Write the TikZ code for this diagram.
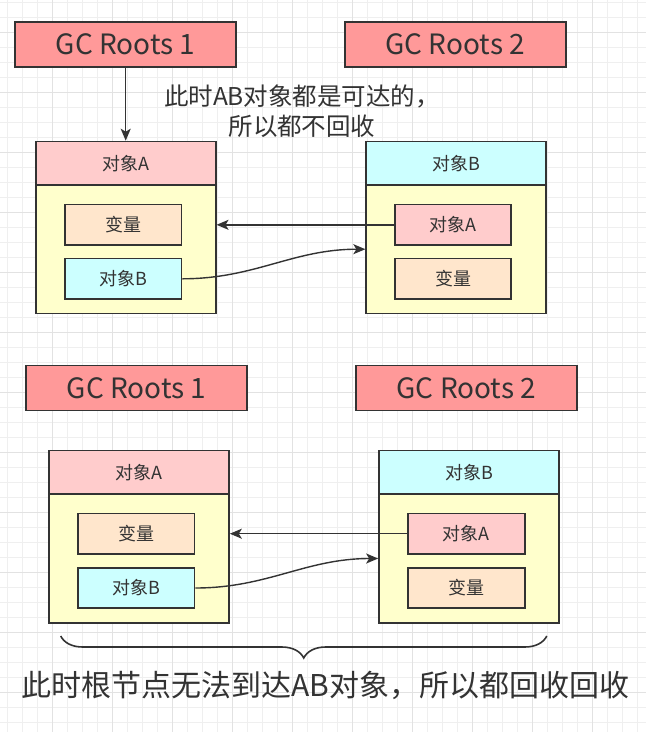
\documentclass[tikz,border=0pt]{standalone}
\usepackage{fontspec}
\setmainfont{Noto Sans CJK SC}
\usetikzlibrary{arrows.meta,decorations.pathreplacing}
\definecolor{ink}{HTML}{333333}
\definecolor{rootred}{HTML}{FF9999}
\definecolor{pinkA}{HTML}{FFCCCC}
\definecolor{cyanB}{HTML}{CCFFFF}
\definecolor{bodyyellow}{HTML}{FFFFCC}
\definecolor{varorange}{HTML}{FFE6CC}
\definecolor{gridminor}{HTML}{EFEFEF}
\definecolor{gridmajor}{HTML}{E2E2E2}
\begin{document}
\begin{tikzpicture}[x=1pt,y=-1pt,
    minor/.style={draw=gridminor,line width=1pt},
    major/.style={draw=gridmajor,line width=1pt},
    root/.style={draw=ink,fill=rootred,line width=1.7pt,minimum width=221pt,minimum height=45pt,inner sep=0pt,text=ink,font=\fontsize{28}{32}\selectfont},
    head/.style={draw=ink,line width=1.7pt,minimum width=180pt,minimum height=43.5pt,inner sep=0pt,text=ink,font=\fontsize{18}{20}\selectfont},
    body/.style={draw=ink,fill=bodyyellow,line width=1.7pt,minimum width=180pt,minimum height=128.5pt,inner sep=0pt},
    field/.style={draw=ink,line width=1.7pt,minimum width=116.5pt,minimum height=40.5pt,inner sep=0pt,text=ink,font=\fontsize{18}{20}\selectfont},
    ref/.style={draw=ink,line width=1.4pt,-{Stealth[length=12pt,width=10pt,inset=3pt]}},
    note/.style={text=ink,align=center,inner sep=0pt,font=\fontsize{24.5}{30}\selectfont},
    caption/.style={text=ink,inner sep=0pt,font=\fontsize{30}{34}\selectfont},
    bracket/.style={draw=ink,line width=1.6pt,decorate,decoration={brace,amplitude=22pt}}]
        \path[use as bounding box,fill=white](0,0) rectangle (646,732);
        \foreach \x in {7.7,22.7,...,646} \draw[minor](\x,0) to (\x,732);
        \foreach \y in {2,17,...,732} \draw[minor](0,\y) to (646,\y);
        \foreach \x in {52.7,112.7,...,646} \draw[major](\x,0) to (\x,732);
        \foreach \y in {32,92,...,732} \draw[major](0,\y) to (646,\y);

        \node[root] (tr1) at(125.7, 44.5){GC Roots 1};
        \node[root] (tr2) at(455.3, 44.5){GC Roots 2};
        \node[note] (tnote) at(302, 111){此时AB对象都是可达的，\\所以都不回收};

        \node[head, fill=pinkA] (tAh) at(125.7, 163.3){对象A};
        \node[body] (tAb) at(125.7, 249.2){};
            \node[field, fill=varorange] (tAv) at(123.2, 224.8){变量};
            \node[field, fill=cyanB] (tAr) at(123.2, 278.8){对象B};

        \node[head, fill=cyanB] (tBh) at(456.2, 163.3){对象B};
        \node[body] (tBb) at(456.2, 249.2){};
            \node[field, fill=pinkA] (tBr) at(453, 224.8){对象A};
            \node[field, fill=varorange] (tBv) at(453, 278.8){变量};

        \draw[ref](tr1) to (tAh);
        \draw[ref](tBr.west) to (tAb.east |- tBr.west);
        \draw[ref](tAr.east) to[out=0, in=180] (tBb.west);

        \node[root] (br1) at(136.6, 388){GC Roots 1};
        \node[root] (br2) at(466.4, 388){GC Roots 2};

        \node[head, fill=pinkA] (bAh) at(139, 472.2){对象A};
        \node[body] (bAb) at(139, 558.5){};
            \node[field, fill=varorange] (bAv) at(136.2, 533.7){变量};
            \node[field, fill=cyanB] (bAr) at(136.2, 588){对象B};

        \node[head, fill=cyanB] (bBh) at(469, 472.2){对象B};
        \node[body] (bBb) at(469, 558.5){};
            \node[field, fill=pinkA] (bBr) at(466.4, 533.7){对象A};
            \node[field, fill=varorange] (bBv) at(466.4, 588){变量};

        \draw[ref](bBr.west) to (bAb.east |- bBr.west);
        \draw[ref](bAr.east) to[out=0, in=180] (bBb.west);

        \coordinate (bl) at(60.7, 636);
        \coordinate (br) at(546.8, 636);
        \draw[bracket](br) to (bl);
        \node[caption, anchor=base] (bnote) at(325.5, 696){此时根节点无法到达AB对象，所以都回收回收};
\end{tikzpicture}
\end{document}
